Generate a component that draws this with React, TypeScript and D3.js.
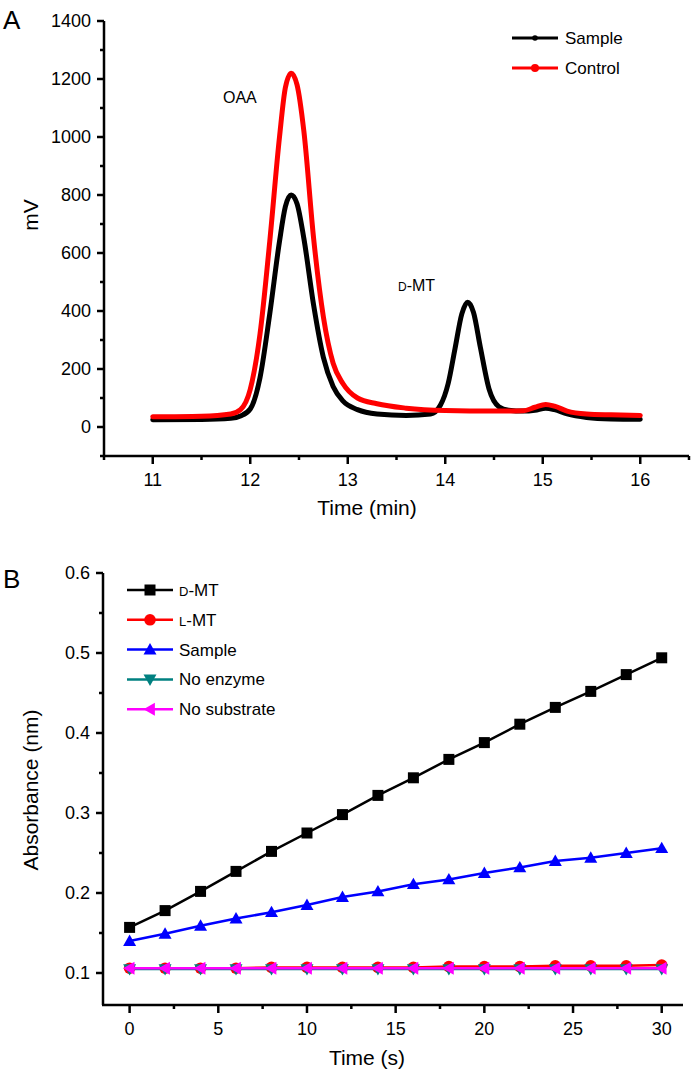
import React from "react";
import * as d3 from "d3";

// ---------- Panel A data (chromatogram) ----------
const sampleTime = [11.0, 11.5, 11.8, 11.9, 12.0, 12.1, 12.2, 12.3, 12.36, 12.42, 12.48, 12.55, 12.65, 12.75, 12.85, 12.95, 13.1, 13.3, 13.6, 13.85, 13.95, 14.03, 14.1, 14.17, 14.23, 14.29, 14.36, 14.45, 14.55, 14.65, 14.8, 14.92, 15.03, 15.12, 15.25, 15.45, 15.7, 16.0];
const sampleMV = [25, 26, 30, 38, 62, 170, 390, 640, 760, 800, 770, 650, 420, 240, 140, 90, 60, 45, 40, 45, 75, 150, 270, 390, 430, 395, 275, 130, 70, 58, 55, 58, 65, 60, 45, 33, 28, 27];
const controlTime = [11.0, 11.5, 11.8, 11.9, 12.0, 12.1, 12.2, 12.3, 12.36, 12.42, 12.48, 12.55, 12.65, 12.75, 12.85, 12.95, 13.1, 13.3, 13.6, 14.0, 14.5, 14.8, 14.92, 15.03, 15.12, 15.25, 15.45, 15.7, 16.0];
const controlMV = [35, 37, 45, 60, 130, 320, 640, 1000, 1170, 1220, 1180, 1020, 650, 380, 220, 150, 100, 80, 65, 57, 55, 56, 68, 78, 72, 55, 45, 42, 40];
const xTicksA = [11, 12, 13, 14, 15, 16];
const yTicksA = [0, 200, 400, 600, 800, 1000, 1200, 1400];

// ---------- Panel B data (kinetics) ----------
const timeB = [0, 2, 4, 6, 8, 10, 12, 14, 16, 18, 20, 22, 24, 26, 28, 30];
const dmt = [0.157, 0.178, 0.202, 0.227, 0.252, 0.275, 0.298, 0.322, 0.344, 0.367, 0.388, 0.411, 0.432, 0.452, 0.473, 0.494];
const lmt = [0.106, 0.106, 0.106, 0.106, 0.107, 0.107, 0.107, 0.107, 0.107, 0.108, 0.108, 0.108, 0.109, 0.109, 0.109, 0.110];
const sampleB = [0.140, 0.149, 0.159, 0.168, 0.176, 0.185, 0.195, 0.202, 0.211, 0.217, 0.225, 0.232, 0.240, 0.244, 0.250, 0.256];
const noEnzyme = [0.105, 0.105, 0.105, 0.105, 0.105, 0.105, 0.105, 0.105, 0.105, 0.105, 0.105, 0.105, 0.105, 0.105, 0.105, 0.105];
const noSubstrate = [0.106, 0.106, 0.106, 0.106, 0.106, 0.106, 0.106, 0.106, 0.106, 0.106, 0.106, 0.106, 0.106, 0.106, 0.106, 0.106];
const xTicksB = [0, 5, 10, 15, 20, 25, 30];
const yTicksB = [0.1, 0.2, 0.3, 0.4, 0.5, 0.6];

const FONT = "'Liberation Sans', Arial, Helvetica, sans-serif";

type Shape = "square" | "circle" | "up" | "down" | "left";

function Marker({ shape, x, y, color }: { shape: Shape; x: number; y: number; color: string }) {
  const s = 5.5;
  if (shape === "square") return <rect x={x - s} y={y - s} width={2 * s} height={2 * s} fill={color} />;
  if (shape === "circle") return <circle cx={x} cy={y} r={5.8} fill={color} />;
  const t = 6.5;
  let pts = "";
  if (shape === "up") pts = `${x},${y - t} ${x - t},${y + t * 0.75} ${x + t},${y + t * 0.75}`;
  if (shape === "down") pts = `${x},${y + t} ${x - t},${y - t * 0.75} ${x + t},${y - t * 0.75}`;
  if (shape === "left") pts = `${x - t},${y} ${x + t * 0.75},${y - t} ${x + t * 0.75},${y + t}`;
  return <polygon points={pts} fill={color} />;
}

export default function App() {
  // Panel A scales
  const xA = d3.scaleLinear().domain([10.5, 16.5]).range([104, 689]);
  const yA = d3.scaleLinear().domain([-100, 1400]).range([456, 21]);
  const lineA = d3
    .line<[number, number]>()
    .x((d) => xA(d[0]))
    .y((d) => yA(d[1]))
    .curve(d3.curveMonotoneX);
  const samplePts = sampleTime.map((t, i) => [t, sampleMV[i]] as [number, number]);
  const controlPts = controlTime.map((t, i) => [t, controlMV[i]] as [number, number]);
  const xMinorA = d3.range(10.5, 16.51, 0.5).filter((v) => !xTicksA.includes(v));
  const yMinorA = d3.range(-100, 1401, 100).filter((v) => !yTicksA.includes(v));

  // Panel B scales
  const xB = d3.scaleLinear().domain([-1.5, 31.2]).range([103, 683]);
  const yB = d3.scaleLinear().domain([0.06, 0.6]).range([1005, 573]);
  const lineB = d3
    .line<number>()
    .x((_, i) => xB(timeB[i]))
    .y((d) => yB(d));
  const xMinorB = [2.5, 7.5, 12.5, 17.5, 22.5, 27.5];
  const yMinorB = [0.15, 0.25, 0.35, 0.45, 0.55];

  const seriesB: { name: string; vals: number[]; color: string; shape: Shape }[] = [
    { name: "D-MT", vals: dmt, color: "#000000", shape: "square" },
    { name: "L-MT", vals: lmt, color: "#ff0000", shape: "circle" },
    { name: "Sample", vals: sampleB, color: "#0000ff", shape: "up" },
    { name: "No enzyme", vals: noEnzyme, color: "#008080", shape: "down" },
    { name: "No substrate", vals: noSubstrate, color: "#ff00ff", shape: "left" },
  ];

  const tickFont = 18;
  const AX = 2.5;

  return (
    <svg width={693} height={1073} style={{ position: "absolute", left: 0, top: 0, background: "#fff" }} fontFamily={FONT}>
      <rect x={0} y={0} width={693} height={1073} fill="#fff" />
      {/* ---------------- Panel A ---------------- */}
      <text x={3} y={29} fontSize={26} fill="#000">A</text>
      {/* axes */}
      <line x1={104} x2={104} y1={yA(1400)} y2={yA(-100)} stroke="#000" strokeWidth={AX} />
      <line x1={103} x2={689} y1={yA(-100)} y2={yA(-100)} stroke="#000" strokeWidth={AX} />
      {yTicksA.map((v) => (
        <g key={"ya" + v}>
          <line x1={97} x2={104} y1={yA(v)} y2={yA(v)} stroke="#000" strokeWidth={AX} />
          <text x={91} y={yA(v)} dy="0.35em" textAnchor="end" fontSize={tickFont}>{v}</text>
        </g>
      ))}
      {yMinorA.map((v) => (
        <line key={"yam" + v} x1={100} x2={104} y1={yA(v)} y2={yA(v)} stroke="#000" strokeWidth={AX} />
      ))}
      {xTicksA.map((v) => (
        <g key={"xa" + v}>
          <line x1={xA(v)} x2={xA(v)} y1={yA(-100)} y2={yA(-100) + 8} stroke="#000" strokeWidth={AX} />
          <text x={xA(v)} y={yA(-100) + 30} textAnchor="middle" fontSize={tickFont}>{v}</text>
        </g>
      ))}
      {xMinorA.map((v) => (
        <line key={"xam" + v} x1={xA(v)} x2={xA(v)} y1={yA(-100)} y2={yA(-100) + 4} stroke="#000" strokeWidth={AX} />
      ))}
      <text x={367} y={515} textAnchor="middle" fontSize={21}>Time (min)</text>
      <text transform={`translate(38,215) rotate(-90)`} textAnchor="middle" fontSize={21}>mV</text>
      {/* curves */}
      <path d={lineA(samplePts) || ""} fill="none" stroke="#000" strokeWidth={5} strokeLinejoin="round" strokeLinecap="round" />
      <path d={lineA(controlPts) || ""} fill="none" stroke="#ff0000" strokeWidth={5} strokeLinejoin="round" strokeLinecap="round" />
      <text x={223} y={103} fontSize={16}>OAA</text>
      <text x={398} y={291} fontSize={16}>
        <tspan fontSize={12}>D</tspan>-MT
      </text>
      {/* legend A */}
      <line x1={512} x2={558} y1={38} y2={38} stroke="#000" strokeWidth={3} />
      <circle cx={535} cy={38} r={2.8} fill="#000" />
      <text x={565} y={38} dy="0.35em" fontSize={17}>Sample</text>
      <line x1={512} x2={558} y1={68} y2={68} stroke="#ff0000" strokeWidth={3} />
      <circle cx={535} cy={68} r={4} fill="#ff0000" />
      <text x={565} y={68} dy="0.35em" fontSize={17}>Control</text>

      {/* ---------------- Panel B ---------------- */}
      <text x={3} y={588} fontSize={26} fill="#000">B</text>
      <line x1={103} x2={103} y1={yB(0.6)} y2={yB(0.06)} stroke="#000" strokeWidth={AX} />
      <line x1={102} x2={683} y1={yB(0.06)} y2={yB(0.06)} stroke="#000" strokeWidth={AX} />
      {yTicksB.map((v) => (
        <g key={"yb" + v}>
          <line x1={96} x2={103} y1={yB(v)} y2={yB(v)} stroke="#000" strokeWidth={AX} />
          <text x={90} y={yB(v)} dy="0.35em" textAnchor="end" fontSize={tickFont}>{v.toFixed(1)}</text>
        </g>
      ))}
      {yMinorB.map((v) => (
        <line key={"ybm" + v} x1={99} x2={103} y1={yB(v)} y2={yB(v)} stroke="#000" strokeWidth={AX} />
      ))}
      {xTicksB.map((v) => (
        <g key={"xb" + v}>
          <line x1={xB(v)} x2={xB(v)} y1={yB(0.06)} y2={yB(0.06) + 8} stroke="#000" strokeWidth={AX} />
          <text x={xB(v)} y={yB(0.06) + 30} textAnchor="middle" fontSize={tickFont}>{v}</text>
        </g>
      ))}
      {xMinorB.map((v) => (
        <line key={"xbm" + v} x1={xB(v)} x2={xB(v)} y1={yB(0.06)} y2={yB(0.06) + 4} stroke="#000" strokeWidth={AX} />
      ))}
      <text x={367} y={1065} textAnchor="middle" fontSize={21}>Time (s)</text>
      <text transform={`translate(38,790) rotate(-90)`} textAnchor="middle" fontSize={21}>Absorbance (nm)</text>
      {seriesB.map((s) => (
        <g key={s.name}>
          <path d={lineB(s.vals) || ""} fill="none" stroke={s.color} strokeWidth={2.5} />
          {s.vals.map((v, i) => (
            <Marker key={i} shape={s.shape} x={xB(timeB[i])} y={yB(v)} color={s.color} />
          ))}
        </g>
      ))}
      {/* legend B */}
      {seriesB.map((s, i) => {
        const y = 590 + i * 29.8;
        const label =
          s.name === "D-MT" ? (
            <>
              <tspan fontSize={13}>D</tspan>-MT
            </>
          ) : s.name === "L-MT" ? (
            <>
              <tspan fontSize={13}>L</tspan>-MT
            </>
          ) : (
            s.name
          );
        return (
          <g key={"lg" + s.name}>
            <line x1={127} x2={173} y1={y} y2={y} stroke={s.color} strokeWidth={2.5} />
            <Marker shape={s.shape} x={150} y={y} color={s.color} />
            <text x={179} y={y} dy="0.35em" fontSize={17}>{label}</text>
          </g>
        );
      })}
    </svg>
  );
}
